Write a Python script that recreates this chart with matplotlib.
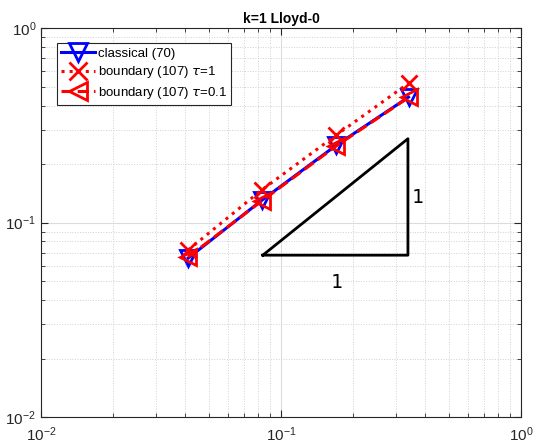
import matplotlib.pyplot as plt
from matplotlib.ticker import LogLocator

# data
h = [0.041, 0.083, 0.17, 0.34]
err_classical = [0.0656, 0.130, 0.250, 0.442]
err_tau1 = [0.0722, 0.147, 0.282, 0.521]
err_tau01 = [0.0665, 0.129, 0.248, 0.44]

# slope triangle
tri_x = [0.084, 0.338, 0.338, 0.084]
tri_y = [0.068, 0.068, 0.27, 0.068]

plt.rcParams['font.family'] = ['Liberation Sans', 'DejaVu Sans']

fig = plt.figure(figsize=(5.36, 4.47), dpi=100)
ax = fig.add_axes([0.0765, 0.067, 0.8955, 0.87])

ax.loglog(h, err_classical, '-', color='blue', lw=2.2, marker='v', ms=12,
          mfc='none', mew=2, label='classical (70)')
ax.loglog(h, err_tau1, ':', color='red', lw=2.2, marker='x', ms=12,
          mew=2, label=r'boundary (107) $\tau$=1')
ax.loglog(h, err_tau01, '--', color='red', lw=2.2, marker='<', ms=12,
          mfc='none', mew=2, label=r'boundary (107) $\tau$=0.1')

ax.plot(tri_x, tri_y, 'k-', lw=2)
ax.text(0.17, 0.049, '1', family='DejaVu Sans Mono', fontsize=14,
        ha='center', va='center')
ax.text(0.35, 0.135, '1', family='DejaVu Sans Mono', fontsize=14,
        ha='left', va='center')

ax.set_xlim(1e-2, 1e0)
ax.set_ylim(1e-2, 1e0)
ax.set_title('k=1 Lloyd-0', fontsize=10, fontweight='bold', pad=4)

ax.xaxis.set_minor_locator(LogLocator(base=10, subs=range(2, 10)))
ax.yaxis.set_minor_locator(LogLocator(base=10, subs=range(2, 10)))
ax.grid(True, which='major', color='#dcdcdc', lw=0.8)
ax.grid(True, which='minor', color='#d0d0d0', ls=':', lw=0.7)
ax.tick_params(which='both', direction='in', top=True, right=True,
               colors='#262626', labelsize=11)
ax.tick_params(axis='x', which='major', pad=6)
ax.tick_params(which='major', length=5)
ax.tick_params(which='minor', length=3)
for s in ax.spines.values():
    s.set_color('#262626')
    s.set_linewidth(0.8)

leg = ax.legend(loc='upper left', bbox_to_anchor=(0.033, 0.961),
                borderaxespad=0, fontsize=9.5, handlelength=2.6,
                fancybox=False, framealpha=1, edgecolor='#262626',
                borderpad=0.3, labelspacing=0.35, handletextpad=0.2,
                markerscale=1.1)
leg.get_frame().set_linewidth(0.8)

fig.savefig('out.png', dpi=100)
